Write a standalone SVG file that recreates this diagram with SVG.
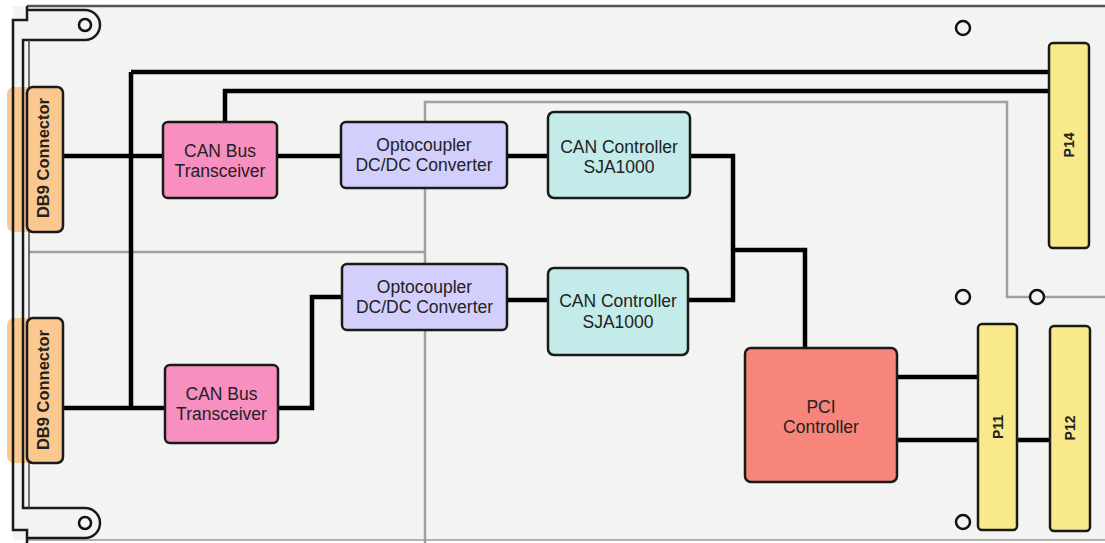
<svg xmlns="http://www.w3.org/2000/svg" width="1105" height="543" viewBox="0 0 1105 543">
<style>
.box{stroke:#1a1a1a;stroke-width:2.5}
.t{font-family:"Liberation Sans",Arial,sans-serif;font-size:17.5px;fill:#222;text-anchor:middle}
.b{font-family:"Liberation Sans",Arial,sans-serif;font-weight:bold;fill:#222;text-anchor:middle;dominant-baseline:central}
.w{fill:none;stroke:#000;stroke-width:4.5;stroke-linejoin:miter}
.g{fill:none;stroke:#a0a0a0;stroke-width:2.5}
.o{fill:none;stroke:#1a1a1a;stroke-width:2.5}
.hole{fill:#f3f4f2;stroke:#111;stroke-width:2.5}
</style>
<rect width="1105" height="543" fill="#ffffff"/>
<rect x="13" y="6" width="1092" height="534" fill="#f3f4f2"/>
<g id="board">
<path class="g" d="M29,252 H425 M425,543 V102 H1007 V297 H1105"/>
<path d="M27,6 H1105" stroke="#555" stroke-width="2.5" fill="none"/>
<path d="M27,540 H1105" stroke="#999" stroke-width="1.5" fill="none"/>
<rect x="7" y="87" width="56" height="145" rx="7" fill="#fbc98f"/>
<rect x="7" y="318" width="56" height="145" rx="7" fill="#fbc98f"/>
<path class="o" d="M27,6 V20 H13 V530 H27 V543"/>
<path class="o" d="M27,10 H85 A15,15 0 0 1 85,40 H23 V508 H85 A15,15 0 0 1 85,538 H27"/>
<path d="M29,40 V508" stroke="#444" stroke-width="1.5" fill="none"/>
<circle class="hole" cx="85" cy="25" r="6"/>
<circle class="hole" cx="85" cy="523" r="6"/>
<circle class="hole" cx="963" cy="28" r="7"/>
<circle class="hole" cx="963" cy="297" r="7"/>
<circle class="hole" cx="1037" cy="297" r="7"/>
<circle class="hole" cx="963" cy="522" r="7"/>
</g>
<g id="connectors">
<path class="w" d="M131,72 H1049"/>
<path class="w" d="M225,122 V91 H1049"/>
<path class="w" d="M131,72 V408"/>
<path class="w" d="M63,156 H163"/>
<path class="w" d="M63,408 H165"/>
<path class="w" d="M277,156 H341"/>
<path class="w" d="M507,156 H548"/>
<path class="w" d="M690,156 H733 V300 H688"/>
<path class="w" d="M733,250 H805 V348"/>
<path class="w" d="M278,408 H312 V297 H342"/>
<path class="w" d="M507,300 H548"/>
<path class="w" d="M897,377 H978"/>
<path class="w" d="M897,440 H978"/>
<path class="w" d="M1017,440 H1050"/>
</g>
<g id="db9-top">
<rect class="box" x="27" y="87" width="36" height="145" rx="6" fill="#fbc98f" stroke-width="2"/>
<text class="b" font-size="16.5" transform="translate(42.5,158) rotate(-90)">DB9 Connector</text>
</g>
<g id="db9-bottom">
<rect class="box" x="27" y="318" width="36" height="145" rx="6" fill="#fbc98f" stroke-width="2"/>
<text class="b" font-size="16.5" transform="translate(42.5,390) rotate(-90)">DB9 Connector</text>
</g>
<g id="transceiver-top">
<rect class="box" x="163" y="122" width="114" height="76" rx="5" fill="#f790c0"/>
<text class="t" x="220" y="157">CAN Bus</text>
<text class="t" x="220" y="177">Transceiver</text>
</g>
<g id="transceiver-bottom">
<rect class="box" x="165" y="365" width="113" height="78" rx="5" fill="#f790c0"/>
<text class="t" x="221.5" y="400">CAN Bus</text>
<text class="t" x="221.5" y="420">Transceiver</text>
</g>
<g id="opto-top">
<rect class="box" x="341" y="122" width="166" height="66" rx="5" fill="#d2cffc"/>
<text class="t" x="424" y="151">Optocoupler</text>
<text class="t" x="424" y="171">DC/DC Converter</text>
</g>
<g id="opto-bottom">
<rect class="box" x="342" y="264" width="165" height="66" rx="5" fill="#d2cffc"/>
<text class="t" x="424.5" y="293">Optocoupler</text>
<text class="t" x="424.5" y="313">DC/DC Converter</text>
</g>
<g id="can-top">
<rect class="box" x="548" y="112" width="142" height="86" rx="6" fill="#c3ebe9"/>
<text class="t" x="619" y="153">CAN Controller</text>
<text class="t" x="619" y="173">SJA1000</text>
</g>
<g id="can-bottom">
<rect class="box" x="548" y="268" width="140" height="87" rx="6" fill="#c3ebe9"/>
<text class="t" x="618" y="307">CAN Controller</text>
<text class="t" x="618" y="328">SJA1000</text>
</g>
<g id="pci">
<rect class="box" x="745" y="348" width="152" height="134" rx="6" fill="#f8857b"/>
<text class="t" x="821" y="413">PCI</text>
<text class="t" x="821" y="433">Controller</text>
</g>
<g id="p14">
<rect class="box" x="1049" y="43" width="40" height="205" rx="4" fill="#f8e98a"/>
<text class="b" font-size="14" transform="translate(1069,145) rotate(-90)">P14</text>
</g>
<g id="p11">
<rect class="box" x="978" y="324" width="39" height="206" rx="4" fill="#f8e98a"/>
<text class="b" font-size="14" transform="translate(997.5,427) rotate(-90)">P11</text>
</g>
<g id="p12">
<rect class="box" x="1050" y="326" width="40" height="205" rx="4" fill="#f8e98a"/>
<text class="b" font-size="14" transform="translate(1070,428) rotate(-90)">P12</text>
</g>
</svg>
